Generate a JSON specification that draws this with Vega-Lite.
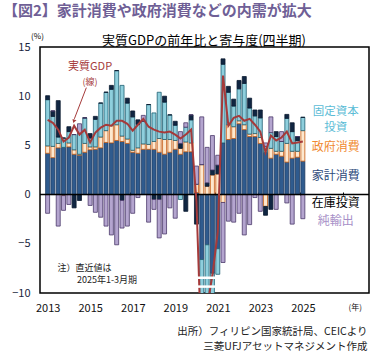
{
  "$schema": "https://vega.github.io/schema/vega-lite/v6.json",
  "width": 329,
  "height": 246,
  "autosize": {"type": "none"},
  "padding": {"left": 40, "top": 47, "right": 9, "bottom": 60},
  "config": {"view": {"stroke": "#000000", "strokeWidth": 1.5}, "font": "Noto Sans CJK JP"},
  "title": {"text": "【図2】家計消費や政府消費などの内需が拡大", "anchor": "start", "frame": "group", "dx": -37, "offset": 13, "fontSize": 15, "fontWeight": "bold", "color": "#6f5f96"},
  "datasets": {
    "gdp": [
      {"q": "2013-02-15", "a_household": 4.2, "b_government": 0.75, "c_fixed_investment": 4.7, "d_inventory": 0.4, "e_net_exports": -1.9, "gdp": 7.6},
      {"q": "2013-05-16", "a_household": 3.75, "b_government": 1.15, "c_fixed_investment": 3.05, "d_inventory": 0.55, "e_net_exports": 0, "gdp": 7.3},
      {"q": "2013-08-16", "a_household": 4.75, "b_government": 0.45, "c_fixed_investment": 0.65, "d_inventory": 3.7, "e_net_exports": -3.2, "gdp": 6.6},
      {"q": "2013-11-15", "a_household": 4.8, "b_government": -0.1, "c_fixed_investment": 0.95, "d_inventory": 0, "e_net_exports": -1.5, "gdp": 5.4},
      {"q": "2014-02-15", "a_household": 4.85, "b_government": 0.4, "c_fixed_investment": 1.15, "d_inventory": 0.5, "e_net_exports": -1.0, "gdp": 5.8},
      {"q": "2014-05-16", "a_household": 4.1, "b_government": 0.45, "c_fixed_investment": 1.55, "d_inventory": -1.35, "e_net_exports": 0, "gdp": 7.0},
      {"q": "2014-08-16", "a_household": 4.0, "b_government": 0.1, "c_fixed_investment": 2.1, "d_inventory": -0.6, "e_net_exports": 1.0, "gdp": 6.1},
      {"q": "2014-11-15", "a_household": 4.3, "b_government": 0.9, "c_fixed_investment": 2.6, "d_inventory": 0, "e_net_exports": 0, "gdp": 6.6},
      {"q": "2015-02-15", "a_household": 4.55, "b_government": 0.3, "c_fixed_investment": 0.9, "d_inventory": 0.45, "e_net_exports": -1.1, "gdp": 5.3},
      {"q": "2015-05-16", "a_household": 4.6, "b_government": 0.25, "c_fixed_investment": 2.8, "d_inventory": 0.3, "e_net_exports": -1.8, "gdp": 6.3},
      {"q": "2015-08-16", "a_household": 4.75, "b_government": 1.1, "c_fixed_investment": 3.45, "d_inventory": 0, "e_net_exports": -2.3, "gdp": 6.8},
      {"q": "2015-11-15", "a_household": 5.3, "b_government": 1.2, "c_fixed_investment": 3.9, "d_inventory": 0, "e_net_exports": -3.2, "gdp": 7.1},
      {"q": "2016-02-15", "a_household": 5.25, "b_government": 1.75, "c_fixed_investment": 3.7, "d_inventory": 0.4, "e_net_exports": -4.1, "gdp": 7.0},
      {"q": "2016-05-16", "a_household": 5.5, "b_government": 1.6, "c_fixed_investment": 5.5, "d_inventory": 0, "e_net_exports": -5.1, "gdp": 7.5},
      {"q": "2016-08-16", "a_household": 5.4, "b_government": 0.55, "c_fixed_investment": 5.15, "d_inventory": -0.6, "e_net_exports": -2.8, "gdp": 7.5},
      {"q": "2016-11-15", "a_household": 5.2, "b_government": 0.45, "c_fixed_investment": 3.65, "d_inventory": 0.5, "e_net_exports": -3.2, "gdp": 7.2},
      {"q": "2017-02-15", "a_household": 4.3, "b_government": 0.2, "c_fixed_investment": 3.4, "d_inventory": 0.6, "e_net_exports": -1.9, "gdp": 6.5},
      {"q": "2017-05-16", "a_household": 4.2, "b_government": 0.55, "c_fixed_investment": 2.4, "d_inventory": 0.45, "e_net_exports": -0.3, "gdp": 7.1},
      {"q": "2017-08-16", "a_household": 4.6, "b_government": 0.55, "c_fixed_investment": 2.3, "d_inventory": 0, "e_net_exports": 0.6, "gdp": 7.7},
      {"q": "2017-11-15", "a_household": 4.6, "b_government": 0.5, "c_fixed_investment": 4.05, "d_inventory": 0, "e_net_exports": -2.8, "gdp": 6.9},
      {"q": "2018-02-15", "a_household": 4.6, "b_government": 0.8, "c_fixed_investment": 2.9, "d_inventory": -0.5, "e_net_exports": -1.0, "gdp": 6.6},
      {"q": "2018-05-16", "a_household": 4.3, "b_government": 1.4, "c_fixed_investment": 4.7, "d_inventory": -0.5, "e_net_exports": -3.9, "gdp": 6.4},
      {"q": "2018-08-16", "a_household": 4.1, "b_government": 1.5, "c_fixed_investment": 3.8, "d_inventory": 0.6, "e_net_exports": -4.0, "gdp": 6.3},
      {"q": "2018-11-15", "a_household": 4.3, "b_government": 1.3, "c_fixed_investment": 2.5, "d_inventory": 0, "e_net_exports": -1.35, "gdp": 6.4},
      {"q": "2019-02-15", "a_household": 4.6, "b_government": 0.9, "c_fixed_investment": 1.55, "d_inventory": 0.4, "e_net_exports": -2.4, "gdp": 6.1},
      {"q": "2019-05-16", "a_household": 4.1, "b_government": 0.6, "c_fixed_investment": -0.5, "d_inventory": 0.5, "e_net_exports": 1.2, "gdp": 5.7},
      {"q": "2019-08-16", "a_household": 4.35, "b_government": 1.0, "c_fixed_investment": 1.5, "d_inventory": -1.7, "e_net_exports": 0.45, "gdp": 6.1},
      {"q": "2019-11-15", "a_household": 4.35, "b_government": 0.9, "c_fixed_investment": 2.35, "d_inventory": 0.5, "e_net_exports": 0, "gdp": 6.6},
      {"q": "2020-02-15", "a_household": 0.2, "b_government": 0.85, "c_fixed_investment": 0, "d_inventory": -3.0, "e_net_exports": 1.85, "gdp": -0.7},
      {"q": "2020-05-16", "a_household": -6.6, "b_government": 3.05, "c_fixed_investment": -4.0, "d_inventory": 0, "e_net_exports": 4.85, "gdp": -17.0},
      {"q": "2020-08-16", "a_household": -5.1, "b_government": 0.85, "c_fixed_investment": -5.0, "d_inventory": 0.35, "e_net_exports": 3.6, "gdp": -11.4},
      {"q": "2020-11-15", "a_household": -8.0, "b_government": 2.0, "c_fixed_investment": -3.0, "d_inventory": 0.5, "e_net_exports": 3.5, "gdp": -8.2},
      {"q": "2021-02-15", "a_household": -5.5, "b_government": 2.1, "c_fixed_investment": -2.6, "d_inventory": 0.9, "e_net_exports": 1.0, "gdp": -3.8},
      {"q": "2021-05-16", "a_household": 5.25, "b_government": -0.8, "c_fixed_investment": 8.0, "d_inventory": 0.55, "e_net_exports": -6.1, "gdp": 12.1},
      {"q": "2021-08-16", "a_household": 5.6, "b_government": 1.5, "c_fixed_investment": 3.3, "d_inventory": 0.6, "e_net_exports": -2.7, "gdp": 7.0},
      {"q": "2021-11-15", "a_household": 5.7, "b_government": 1.2, "c_fixed_investment": 2.1, "d_inventory": 0.7, "e_net_exports": -2.8, "gdp": 7.8},
      {"q": "2022-02-15", "a_household": 7.2, "b_government": 0.3, "c_fixed_investment": 3.25, "d_inventory": 0.85, "e_net_exports": -1.9, "gdp": 8.0},
      {"q": "2022-05-16", "a_household": 6.6, "b_government": 0.5, "c_fixed_investment": 4.2, "d_inventory": 0.7, "e_net_exports": -4.1, "gdp": 7.5},
      {"q": "2022-08-16", "a_household": 5.9, "b_government": 0.25, "c_fixed_investment": 2.65, "d_inventory": 1.0, "e_net_exports": -3.05, "gdp": 7.7},
      {"q": "2022-11-15", "a_household": 5.9, "b_government": 0.3, "c_fixed_investment": 1.8, "d_inventory": 0.6, "e_net_exports": -0.3, "gdp": 7.1},
      {"q": "2023-02-15", "a_household": 5.2, "b_government": 0.6, "c_fixed_investment": 2.0, "d_inventory": 0.8, "e_net_exports": -1.7, "gdp": 6.4},
      {"q": "2023-05-16", "a_household": 4.3, "b_government": -1.2, "c_fixed_investment": 0.6, "d_inventory": -0.9, "e_net_exports": 0.35, "gdp": 4.3},
      {"q": "2023-08-16", "a_household": 3.7, "b_government": 1.0, "c_fixed_investment": 1.6, "d_inventory": -1.5, "e_net_exports": 1.6, "gdp": 6.0},
      {"q": "2023-11-15", "a_household": 4.1, "b_government": 0.3, "c_fixed_investment": 1.5, "d_inventory": 0.5, "e_net_exports": -1.5, "gdp": 5.5},
      {"q": "2024-02-15", "a_household": 3.9, "b_government": 0.5, "c_fixed_investment": 1.0, "d_inventory": 0, "e_net_exports": 1.0, "gdp": 5.8},
      {"q": "2024-05-16", "a_household": 3.3, "b_government": 1.9, "c_fixed_investment": 2.55, "d_inventory": 0.4, "e_net_exports": -0.85, "gdp": 6.4},
      {"q": "2024-08-16", "a_household": 3.7, "b_government": 0.7, "c_fixed_investment": 2.0, "d_inventory": 0.9, "e_net_exports": -3.0, "gdp": 5.2},
      {"q": "2024-11-15", "a_household": 3.8, "b_government": 0.6, "c_fixed_investment": 1.1, "d_inventory": 0.4, "e_net_exports": 0, "gdp": 5.3},
      {"q": "2025-02-15", "a_household": 3.4, "b_government": 3.1, "c_fixed_investment": 1.35, "d_inventory": 0, "e_net_exports": -2.45, "gdp": 5.4}
    ],
    "one": [{}]
  },
  "data": {"name": "gdp"},
  "resolve": {"axis": {"x": "independent"}},
  "layer": [
    {
      "transform": [{"fold": ["a_household", "b_government", "c_fixed_investment", "d_inventory", "e_net_exports"], "as": ["comp", "val"]}],
      "mark": {"type": "bar", "size": 4, "strokeWidth": 0.8, "clip": true},
      "encoding": {
        "x": {"field": "q", "type": "temporal",
              "scale": {"domain": [{"year": 2013, "month": 1, "date": 1}, {"year": 2028, "month": 1, "date": 1}]},
              "axis": {"orient": "bottom", "title": ["出所）フィリピン国家統計局、CEICより", "三菱UFJアセットマネジメント作成"],
                       "titleAnchor": "end", "titleAlign": "right", "titleBaseline": "top", "titleX": 327, "titleY": 33,
                       "titleFontSize": 10.5, "titleFontWeight": "normal", "titleColor": "#222222", "titleLineHeight": 15,
                       "values": [{"year": 2013, "month": 1, "date": 1}, {"year": 2015, "month": 1, "date": 1}, {"year": 2017, "month": 1, "date": 1}, {"year": 2019, "month": 1, "date": 1}, {"year": 2021, "month": 1, "date": 1}, {"year": 2023, "month": 1, "date": 1}, {"year": 2025, "month": 1, "date": 1}],
                       "format": "%Y", "labelOffset": 2.7, "labelPadding": 9, "labelFontSize": 11, "labelColor": "#111111",
                       "ticks": false, "domain": false, "grid": false}},
        "y": {"field": "val", "type": "quantitative", "stack": "zero",
              "scale": {"domain": [-10, 15], "nice": false},
              "axis": {"values": [-10, -5, 0, 5, 10, 15], "title": "(%)", "titleAngle": 0, "titleX": -3, "titleY": -11,
                       "titleAlign": "center", "titleBaseline": "middle", "titleFontSize": 8, "titleFontWeight": "normal",
                       "labelFontSize": 11, "labelColor": "#1a2540", "labelPadding": 10, "ticks": false, "domain": false, "grid": false}},
        "color": {"field": "comp", "type": "nominal", "legend": null,
                  "scale": {"domain": ["a_household", "b_government", "c_fixed_investment", "d_inventory", "e_net_exports"],
                            "range": ["#2f5b8e", "#fde8cf", "#8ecfdd", "#102642", "#b4a5cf"]}},
        "stroke": {"field": "comp", "type": "nominal", "legend": null,
                   "scale": {"domain": ["a_household", "b_government", "c_fixed_investment", "d_inventory", "e_net_exports"],
                             "range": ["#1e3a60", "#c55a11", "#1f6072", "#0b1a30", "#4b3a6b"]}},
        "order": {"field": "comp", "sort": "ascending"}
      }
    },
    {
      "data": {"name": "one"},
      "mark": {"type": "rule", "color": "#000000", "strokeWidth": 1.5},
      "encoding": {"y": {"datum": 0}}
    },
    {
      "mark": {"type": "line", "color": "#a53a3a", "strokeWidth": 2, "clip": true},
      "encoding": {
        "x": {"field": "q", "type": "temporal",
              "axis": {"orient": "top", "offset": -148, "labels": false, "domain": false, "grid": false, "ticks": true, "tickSize": 3, "tickColor": "#000000", "tickWidth": 1, "title": null,
                       "values": [{"year": 2015, "month": 1, "date": 1}, {"year": 2017, "month": 1, "date": 1}, {"year": 2019, "month": 1, "date": 1}, {"year": 2021, "month": 1, "date": 1}, {"year": 2023, "month": 1, "date": 1}, {"year": 2025, "month": 1, "date": 1}, {"year": 2027, "month": 1, "date": 1}]}},
        "y": {"field": "gdp", "type": "quantitative"}
      }
    },
    {
      "data": {"name": "one"},
      "mark": {"type": "rule", "color": "#ffffff", "strokeWidth": 2.5},
      "encoding": {"x": {"datum": {"year": 2020, "month": 1, "date": 10}, "axis": null}, "x2": {"datum": {"year": 2021, "month": 7, "date": 1}}, "y": {"datum": -8.45}}
    },
    {
      "data": {"name": "one"},
      "mark": {"type": "rule", "color": "#ffffff", "strokeWidth": 2.5},
      "encoding": {"x": {"datum": {"year": 2020, "month": 1, "date": 10}, "axis": null}, "x2": {"datum": {"year": 2021, "month": 7, "date": 1}}, "y": {"datum": -9.35}}
    },
    {
      "data": {"name": "one"},
      "mark": {"type": "rule", "color": "#ffffff", "strokeWidth": 2.5},
      "encoding": {"x": {"datum": {"year": 2020, "month": 10, "date": 1}, "axis": null}, "x2": {"datum": {"year": 2021, "month": 12, "date": 1}}, "y": {"datum": 14.0}}
    },
    {
      "data": {"name": "one"},
      "mark": {"type": "text", "fontSize": 13, "color": "#000000", "align": "center", "baseline": "alphabetic"},
      "encoding": {"x": {"datum": {"year": 2020, "month": 6, "date": 23}, "axis": null}, "y": {"datum": 15.25}, "text": {"value": "実質GDPの前年比と寄与度(四半期)"}}
    },
    {
      "data": {"name": "one"},
      "mark": {"type": "text", "fontSize": 11, "color": "#a53a3a", "align": "center", "baseline": "middle"},
      "encoding": {"x": {"datum": {"year": 2015, "month": 2, "date": 14}, "axis": null}, "y": {"datum": 13.0}, "text": {"value": "実質GDP"}}
    },
    {
      "data": {"name": "one"},
      "mark": {"type": "text", "fontSize": 9, "color": "#a53a3a", "align": "center", "baseline": "middle"},
      "encoding": {"x": {"datum": {"year": 2015, "month": 2, "date": 14}, "axis": null}, "y": {"datum": 11.4}, "text": {"value": "(線)"}}
    },
    {
      "data": {"name": "one"},
      "mark": {"type": "rule", "color": "#a53a3a", "strokeWidth": 1},
      "encoding": {"x": {"datum": {"year": 2014, "month": 12, "date": 12}, "axis": null}, "x2": {"datum": {"year": 2014, "month": 5, "date": 20}},
                   "y": {"datum": 10.87}, "y2": {"datum": 7.7}}
    },
    {
      "data": {"name": "one"},
      "mark": {"type": "point", "shape": "triangle", "filled": true, "color": "#a53a3a", "size": 18, "angle": 200, "opacity": 1},
      "encoding": {"x": {"datum": {"year": 2014, "month": 5, "date": 15}, "axis": null}, "y": {"datum": 7.5}}
    },
    {
      "data": {"name": "one"},
      "mark": {"type": "text", "fontSize": 9, "color": "#222222", "align": "left", "baseline": "middle"},
      "encoding": {"x": {"datum": {"year": 2013, "month": 8, "date": 5}, "axis": null}, "y": {"datum": -7.42}, "text": {"value": "注）直近値は"}}
    },
    {
      "data": {"name": "one"},
      "mark": {"type": "text", "fontSize": 9, "color": "#222222", "align": "left", "baseline": "middle"},
      "encoding": {"x": {"datum": {"year": 2014, "month": 7, "date": 3}, "axis": null}, "y": {"datum": -8.64}, "text": {"value": "2025年1-3月期"}}
    },
    {
      "data": {"name": "one"},
      "mark": {"type": "text", "fontSize": 11.5, "color": "#5bbcd6", "align": "center", "baseline": "middle"},
      "encoding": {"x": {"datum": {"year": 2026, "month": 9, "date": 5}, "axis": null}, "y": {"datum": 8.35}, "text": {"value": "固定資本"}}
    },
    {
      "data": {"name": "one"},
      "mark": {"type": "text", "fontSize": 11.5, "color": "#5bbcd6", "align": "center", "baseline": "middle"},
      "encoding": {"x": {"datum": {"year": 2026, "month": 9, "date": 5}, "axis": null}, "y": {"datum": 6.75}, "text": {"value": "投資"}}
    },
    {
      "data": {"name": "one"},
      "mark": {"type": "text", "fontSize": 12, "color": "#f08a30", "align": "center", "baseline": "middle"},
      "encoding": {"x": {"datum": {"year": 2026, "month": 9, "date": 5}, "axis": null}, "y": {"datum": 4.83}, "text": {"value": "政府消費"}}
    },
    {
      "data": {"name": "one"},
      "mark": {"type": "text", "fontSize": 12, "color": "#2e4a7a", "align": "center", "baseline": "middle"},
      "encoding": {"x": {"datum": {"year": 2026, "month": 9, "date": 5}, "axis": null}, "y": {"datum": 1.93}, "text": {"value": "家計消費"}}
    },
    {
      "data": {"name": "one"},
      "mark": {"type": "text", "fontSize": 12, "color": "#000000", "align": "center", "baseline": "middle"},
      "encoding": {"x": {"datum": {"year": 2026, "month": 9, "date": 5}, "axis": null}, "y": {"datum": -0.86}, "text": {"value": "在庫投資"}}
    },
    {
      "data": {"name": "one"},
      "mark": {"type": "text", "fontSize": 12, "color": "#a68fc7", "align": "center", "baseline": "middle"},
      "encoding": {"x": {"datum": {"year": 2026, "month": 9, "date": 5}, "axis": null}, "y": {"datum": -2.67}, "text": {"value": "純輸出"}}
    },
    {
      "data": {"name": "one"},
      "mark": {"type": "text", "fontSize": 8, "color": "#111111", "align": "center", "baseline": "middle"},
      "encoding": {"x": {"datum": {"year": 2027, "month": 8, "date": 3}, "axis": null}, "y": {"datum": -11.5}, "text": {"value": "(年)"}}
    }
  ]
}
